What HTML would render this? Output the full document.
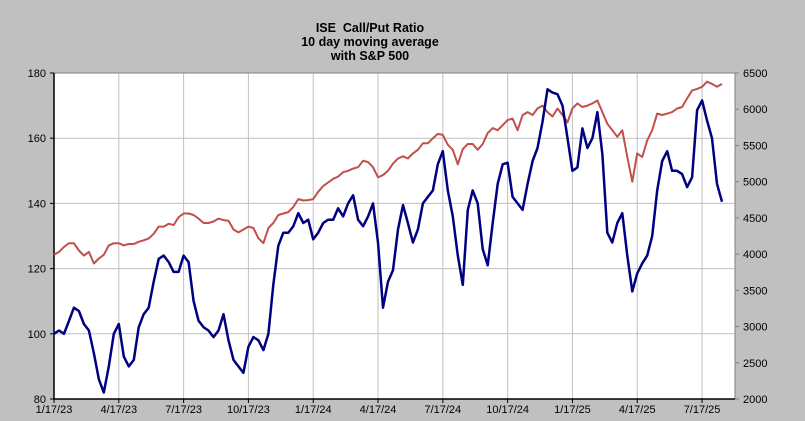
<!DOCTYPE html>
<html><head><meta charset="utf-8"><style>
html,body{margin:0;padding:0;background:#c0c0c0;}
svg{display:block;font-family:"Liberation Sans",Arial,sans-serif;}
</style></head><body>
<svg id="chart" width="805" height="421" xmlns="http://www.w3.org/2000/svg">
<rect x="0" y="0" width="805" height="421" fill="#c0c0c0"/>
<g font-size="12.5" font-weight="bold" text-anchor="middle" fill="#000">
<text x="370" y="32">ISE&#160; Call/Put Ratio</text>
<text x="370" y="46">10 day moving average</text>
<text x="370" y="60">with S&amp;P 500</text>
</g>
<rect x="54" y="73" width="681" height="326" fill="#fff"/>
<g id="grid"></g>
<g id="axes"></g>
<g id="series"></g>
</svg>
<script>
const xTickLabels = ["1/17/23","4/17/23","7/17/23","10/17/23","1/17/24","4/17/24","7/17/24","10/17/24","1/17/25","4/17/25","7/17/25"];
const leftTicks = [80,100,120,140,160,180];
const rightTicks = [2000,2500,3000,3500,4000,4500,5000,5500,6000,6500];
const callPutRatio = [100,101,100,104,108,107,103,101,94,86,82,90,100,103,93,90,92,102,106,108,116,123,124,122,119,119,124,122,110,104,102,101,99,101,106,98,92,90,88,96,99,98,95,100,115,127,131,131,133,137,134,135,129,131,134,135,135,138.5,136,140,142.5,135,133,136,140,128,108,116,119.5,132,139.5,134,128,132,140,142,144,152,156,144,136,124,115,138,144,140,126,121,134,146,152,152.5,142,140,138,146,153,157,165,175,174,173.5,170,160,150,151,163,157,160,168,155,131,128,134,137,124,113,118.5,121.6,124,130,144,153,156,150,150,149,145,148,168.6,171.6,165.5,160,146,140.5];
const sp500 = [3990,4030,4100,4150,4150,4050,3980,4030,3870,3940,3990,4120,4150,4150,4120,4140,4140,4170,4190,4215,4280,4380,4380,4420,4400,4510,4560,4560,4540,4490,4430,4430,4450,4490,4470,4460,4340,4300,4340,4380,4360,4220,4150,4360,4430,4540,4560,4580,4650,4760,4740,4745,4760,4860,4940,4990,5040,5070,5130,5150,5180,5200,5290,5270,5200,5060,5090,5150,5250,5320,5350,5320,5390,5440,5530,5530,5600,5660,5645,5510,5440,5240,5450,5520,5520,5440,5520,5670,5740,5710,5780,5850,5870,5710,5920,5960,5920,6010,6050,5960,5900,6010,5920,5820,6010,6080,6030,6050,6080,6120,5960,5800,5710,5620,5710,5340,5000,5390,5340,5570,5710,5940,5920,5940,5960,6010,6030,6150,6260,6280,6310,6380,6350,6310,6350];

(function(){
const NS="http://www.w3.org/2000/svg";
const L=54,R=735,T=73,B=399,PXW=4.985;
const xW = w => L + w*PXW;
const yL = v => B - (v-80)/100*(B-T);
const yR = v => B - (v-2000)/4500*(B-T);
function mk(tag,attrs,parent){const e=document.createElementNS(NS,tag);for(const k in attrs)e.setAttribute(k,attrs[k]);parent.appendChild(e);return e;}
const grid=document.getElementById('grid'),axes=document.getElementById('axes'),series=document.getElementById('series');

leftTicks.forEach(v=>{
  const y=yL(v);
  const g=mk('line',{x1:L,x2:R,y1:y,y2:y,stroke:'#c0c0c0','stroke-width':1},grid);
  
  
  const t=mk('line',{x1:L-4,x2:L,y1:y,y2:y,stroke:'#000'},axes);
  
  
  const tx=mk('text',{x:L-8,y:y+4,'text-anchor':'end','font-size':11,fill:'#000'},axes);
  tx.textContent=v;
  
  
});
rightTicks.forEach(v=>{
  const y=yR(v);
  const t=mk('line',{x1:R,x2:R+4,y1:y,y2:y,stroke:'#808080'},axes);
  
  
  const tx=mk('text',{x:R+8,y:y+4,'text-anchor':'start','font-size':11,fill:'#000'},axes);
  tx.textContent=v;
  
  
});
xTickLabels.forEach((lab,i)=>{
  const x=xW(i*13);
  if(i>0){const g=mk('line',{x1:x,x2:x,y1:T,y2:B,stroke:'#c0c0c0','stroke-width':1},grid);
  
  }
  const t=mk('line',{x1:x,x2:x,y1:B,y2:B+4,stroke:'#000'},axes);
  
  
  const tx=mk('text',{x:x,y:B+14,'text-anchor':'middle','font-size':11,fill:'#000'},axes);
  tx.textContent=lab;
  
  
});
const topBorder=mk('line',{x1:L,x2:R,y1:T,y2:T,stroke:'#808080'},axes);


const ra=mk('line',{x1:R,x2:R,y1:T,y2:B,stroke:'#808080'},axes);


const la=mk('line',{x1:L,x2:L,y1:T,y2:B+1,stroke:'#000','stroke-width':1.5},axes);


const ba=mk('line',{x1:L,x2:R,y1:B,y2:B,stroke:'#000','stroke-width':1.5},axes);



const spPath=mk('polyline',{points:sp500.map((v,i)=>xW(i).toFixed(1)+','+yR(v).toFixed(1)).join(' '),fill:'none',stroke:'#c0504d','stroke-width':2,'stroke-linejoin':'round'},series);


const cpPath=mk('polyline',{points:callPutRatio.map((v,i)=>xW(i).toFixed(1)+','+yL(v).toFixed(1)).join(' '),fill:'none',stroke:'#000080','stroke-width':2.5,'stroke-linejoin':'round'},series);


})();
</script>
</body></html>
